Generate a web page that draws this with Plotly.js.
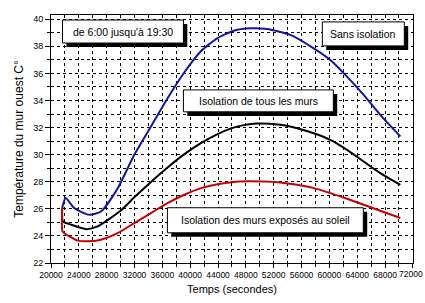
<!DOCTYPE html>
<html><head><meta charset="utf-8">
<script src="https://cdn.plot.ly/plotly-3.0.1.min.js"></script>
<style>body{margin:0;background:#fff}#c{width:425px;height:303px}</style>
</head><body><div id="c"></div>
<script>
// Data
const tBlue = [21600, 21720, 22100, 23350, 25500, 27180, 29570, 31970, 34360, 36750, 39070, 41470, 43870, 46260, 48650, 51050, 54400, 57750, 60140, 62540, 64930, 67320, 70200];
const sansIsolation = [26.0, 26.3, 26.8, 26.05, 25.56, 25.8, 27.5, 29.99, 32.07, 34.16, 36.01, 37.6, 38.59, 39.15, 39.33, 39.28, 38.84, 37.85, 36.99, 35.76, 34.41, 32.93, 31.34];
const tBlack = [21600, 21720, 22870, 25100, 26700, 29980, 31970, 34290, 36750, 39070, 41540, 43870, 45780, 47700, 49610, 52960, 55360, 57750, 60140, 62540, 64930, 67320, 70200];
const tousLesMurs = [26.0, 25.07, 24.83, 24.5, 24.7, 25.85, 26.85, 27.95, 29.05, 30.0, 30.85, 31.5, 31.92, 32.18, 32.3, 32.2, 31.95, 31.58, 31.09, 30.35, 29.49, 28.63, 27.77];
const tRed = [21600, 21640, 21920, 23760, 25200, 27180, 29570, 31970, 34360, 36750, 39150, 41540, 43930, 45780, 47040, 50570, 52960, 55360, 57750, 60140, 62540, 64930, 67320, 70200];
const mursExposes = [26.0, 24.35, 24.2, 23.67, 23.6, 23.72, 24.2, 24.95, 25.69, 26.42, 27.04, 27.53, 27.82, 27.95, 28.02, 28.02, 27.95, 27.77, 27.53, 27.16, 26.74, 26.3, 25.86, 25.32];
const labels = ["de 6:00 jusqu'à 19:30", "Sans isolation", "Isolation de tous les murs", "Isolation des murs exposés au soleil"];
const xTicks = [20000, 24000, 28000, 32000, 36000, 40000, 44000, 48000, 52000, 56000, 60000, 64000, 68000, 72000];
const yTicks = [22, 24, 26, 28, 30, 32, 34, 36, 38, 40];

const FONT = "Liberation Sans, Arial, sans-serif";
const traces = [
  {x: tBlue, y: sansIsolation, mode: 'lines', line: {color: '#1414a8', width: 2, shape: 'spline', smoothing: 0.6}},
  {x: tBlack, y: tousLesMurs, mode: 'lines', line: {color: '#000000', width: 2, shape: 'spline', smoothing: 0.6}},
  {x: tRed, y: mursExposes, mode: 'lines', line: {color: '#c80000', width: 2, shape: 'spline', smoothing: 0.6}}
];

// label boxes: [x0, x1, y0(top), y1(bottom)] in axis units
const boxes = [
  [21650, 39030, 39.94, 38.24],
  [58990, 70770, 39.80, 38.03],
  [39030, 60570, 34.78, 33.16],
  [36730, 64880, 26.08, 24.23]
];
const shapes = [], annotations = [];
const dx = 560, dy = 0.3;
boxes.forEach((b, i) => {
  shapes.push({type: 'rect', xref: 'x', yref: 'y', x0: b[0] + dx, x1: b[1] + dx, y0: b[3] - dy, y1: b[2] - dy,
    fillcolor: '#000', line: {width: 0}, layer: 'above'});
  shapes.push({type: 'rect', xref: 'x', yref: 'y', x0: b[0], x1: b[1], y0: b[3], y1: b[2],
    fillcolor: '#fff', line: {color: '#000', width: 1}, layer: 'above'});
  annotations.push({xref: 'x', yref: 'y', x: (b[0] + b[1]) / 2, y: (b[2] + b[3]) / 2, text: labels[i],
    showarrow: false, font: {family: FONT, size: 10.5, color: '#000'}});
});
// last x tick label, kept inside the page
const lastTick = xTicks[xTicks.length - 1];
annotations.push({xref: 'paper', yref: 'paper', x: 1, y: 0, yanchor: 'top', xanchor: 'right', xshift: 12, yshift: -4,
  text: String(lastTick), showarrow: false, font: {family: FONT, size: 8.5, color: '#000'}});

const gridCommon = {gridcolor: '#000', griddash: '3px,3px', gridwidth: 1};
const layout = {
  width: 425, height: 303,
  margin: {l: 51, r: 12, t: 15, b: 40},
  paper_bgcolor: '#fff', plot_bgcolor: '#fff',
  showlegend: false,
  font: {family: FONT, color: '#000'},
  xaxis: Object.assign({
    range: [20000, 72020], tickvals: xTicks, ticktext: xTicks.map((v, i) => i === xTicks.length - 1 ? '' : String(v)),
    showgrid: true, zeroline: false, showline: true, linecolor: '#000', linewidth: 1, mirror: true,
    ticks: 'outside', ticklen: 4, tickcolor: '#000', tickfont: {size: 8.5, family: FONT},
    minor: {dtick: 2000, tick0: 0, showgrid: true, gridcolor: '#000', griddash: '3px,3px', ticks: 'outside', ticklen: 3, tickcolor: '#000'},
    title: {text: 'Temps (secondes)', font: {size: 11, family: FONT}, standoff: 6}
  }, gridCommon),
  yaxis: Object.assign({
    range: [22, 40.31], tickvals: yTicks, ticktext: yTicks.map(String),
    showgrid: true, zeroline: false, showline: true, linecolor: '#000', linewidth: 1, mirror: true,
    ticks: 'outside', ticklen: 5, tickcolor: '#000', tickfont: {size: 9, family: FONT},
    minor: {dtick: 1, tick0: 0, showgrid: true, gridcolor: '#000', griddash: '3px,3px', ticks: 'outside', ticklen: 3, tickcolor: '#000'},
    title: {text: 'Température du mur ouest C°', font: {size: 12, family: FONT}, standoff: 6}
  }, gridCommon),
  shapes: shapes,
  annotations: annotations
};
Plotly.newPlot('c', traces, layout, {staticPlot: true, displayModeBar: false});
</script>
</body></html>
